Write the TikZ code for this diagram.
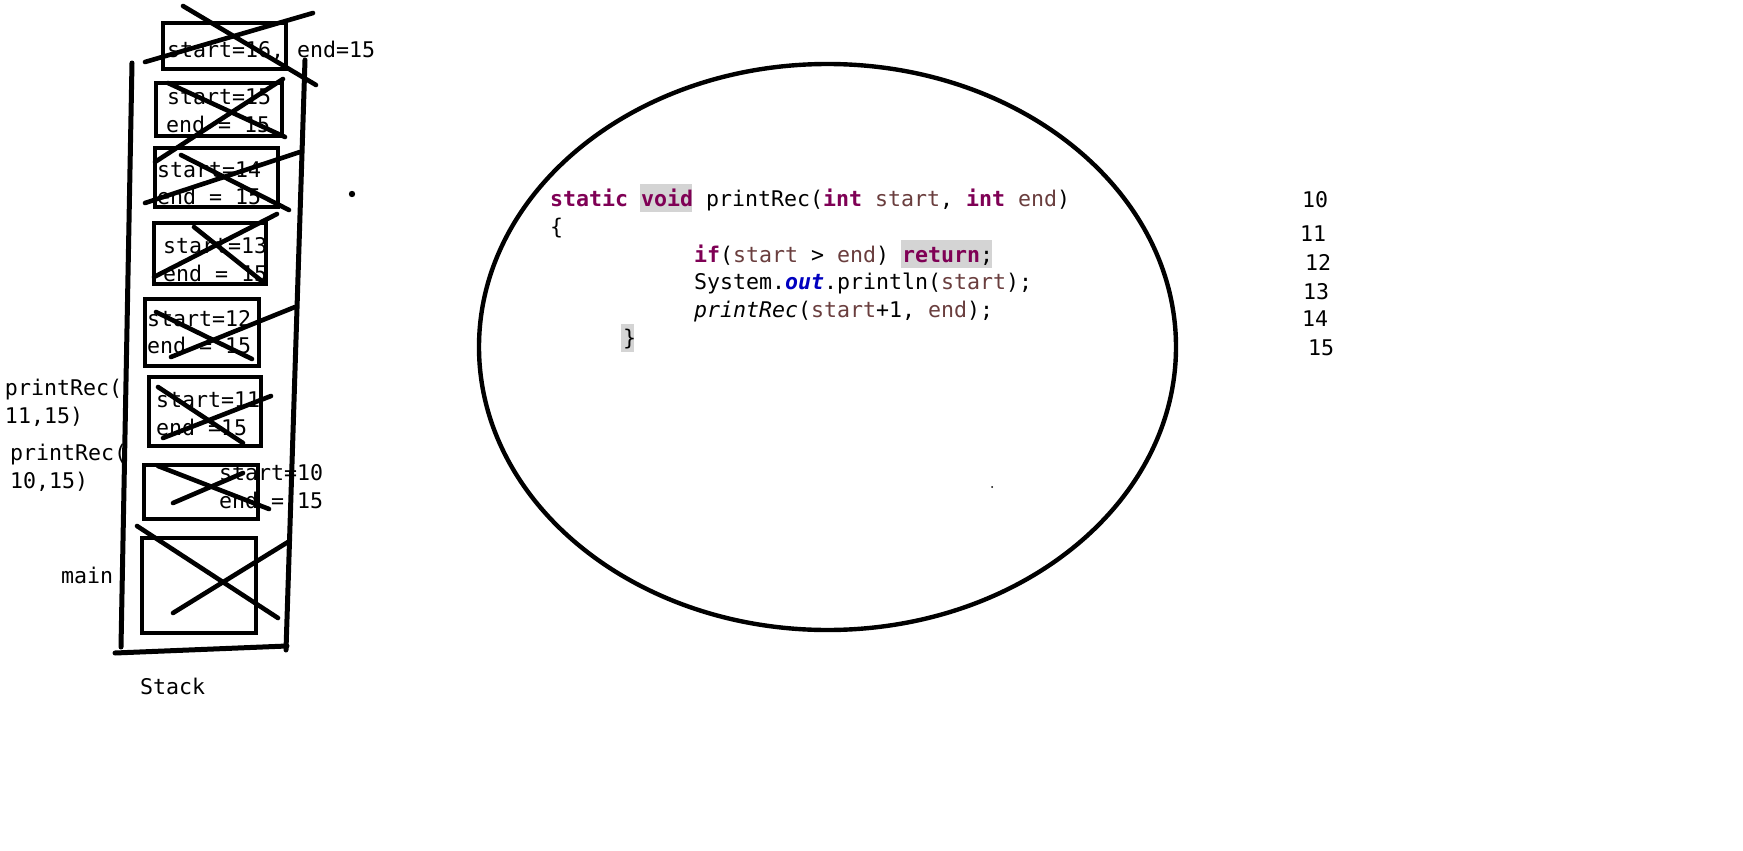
\documentclass[tikz,border=0pt]{standalone}
\usepackage{fontspec}
\newfontfamily\codefont{DejaVu Sans Mono}
\definecolor{kwc}{HTML}{7F0055}
\definecolor{varc}{HTML}{6A3E3E}
\definecolor{outc}{HTML}{0000C0}
\definecolor{hlc}{HTML}{D4D4D4}
\newcommand\kwd[1]{{\color{kwc}\bfseries #1}}
\newcommand\vrb[1]{{\color{varc}#1}}
\tikzset{
  txt/.style={anchor=base west, inner sep=0pt, outer sep=0pt, font=\codefont\fontsize{21.6}{26}\selectfont},
  frame/.style={line width=4.6pt},
  wall/.style={line width=5pt, line cap=round},
  xline/.style={line width=4.6pt, line cap=round},
}
\begin{document}
\begin{tikzpicture}[x=1pt,y=-1pt]
\useasboundingbox (0,0) rectangle (1743,851);
\fill[white] (0,0) rectangle (1743,851);

% stack walls
\coordinate (lwt) at (132,63); \coordinate (lwb) at (121,647);
\coordinate (rwt) at (305,60); \coordinate (rwb) at (286,650);
\coordinate (bl) at (115,653); \coordinate (br) at (287,646);
\draw[wall] (lwt) -- (lwb);
\draw[wall] (rwt) -- (rwb);
\draw[wall] (bl) -- (br);

% frames
\draw[frame] (163,23) rectangle (286,69);
\draw[frame] (156,83) rectangle (282,136);
\draw[frame] (155,148) rectangle (278,207);
\draw[frame] (154,223) rectangle (266,284);
\draw[frame] (145,299) rectangle (259,366);
\draw[frame] (149,377) rectangle (261,446);
\draw[frame] (144,465) rectangle (258,519);
\draw[frame] (142,538) rectangle (256,633);

% frame texts
\node[txt] (f1) at (167,58) {start=16, end=15};
\node[txt] (f2a) at (167,104) {start=15};
\node[txt] (f2b) at (166,132) {end = 15};
\node[txt] (f3a) at (157,177) {start=14};
\node[txt] (f3b) at (157,204) {end = 15};
\node[txt] (f4a) at (163,253) {start=13};
\node[txt] (f4b) at (163,281) {end = 15};
\node[txt] (f5a) at (147,326) {start=12};
\node[txt] (f5b) at (147,353) {end = 15};
\node[txt] (f6a) at (156,407) {start=11};
\node[txt] (f6b) at (156,435) {end =15};
\node[txt] (f7a) at (219,480) {start=10};
\node[txt] (f7b) at (219,508) {end = 15};

% crosses
\draw[xline] (183,6) -- (316,85);
\draw[xline] (145,62) -- (313,13);
\draw[xline] (168,83) -- (285,137);
\draw[xline] (283,79) -- (155,162);
\draw[xline] (181,155) -- (289,210);
\draw[xline] (145,203) -- (300,152);
\draw[xline] (194,227) -- (263,282);
\draw[xline] (154,277) -- (277,214);
\draw[xline] (156,312) -- (252,359);
\draw[xline] (171,357) -- (295,307);
\draw[xline] (158,387) -- (243,443);
\draw[xline] (163,438) -- (271,396);
\draw[xline] (158,466) -- (269,509);
\draw[xline] (173,503) -- (243,473);
\draw[xline] (137,526) -- (278,618);
\draw[xline] (173,613) -- (288,542);

% side labels
\node[txt] (l1a) at (5,395) {printRec(};
\node[txt] (l1b) at (5,423) {11,15)};
\node[txt] (l2a) at (10,460) {printRec(};
\node[txt] (l2b) at (10,488) {10,15)};
\node[txt] (lm) at (61,583) {main};
\node[txt] (ls) at (140,694) {Stack};

% dots
\fill (352,194) circle (3.2);
\fill (992,487) circle (1);

% ellipse
\draw[line width=4.4pt] (827.5,347) ellipse [x radius=348.5, y radius=283];

% highlights
\fill[hlc] (640,184) rectangle (692,212);
\fill[hlc] (901,240) rectangle (992,268);
\fill[hlc] (621,324) rectangle (634,352);

% code
\node[txt] (c1) at (550,206) {\kwd{static} \kwd{void} printRec(\kwd{int} \vrb{start}, \kwd{int} \vrb{end})};
\node[txt] (c2) at (550,234) {\{};
\node[txt] (c3) at (694,262) {\kwd{if}(\vrb{start} > \vrb{end}) \kwd{return};};
\node[txt] (c4) at (694,289) {System.{\color{outc}\bfseries\itshape out}.println(\vrb{start});};
\node[txt] (c5) at (694,317) {{\itshape printRec}(\vrb{start}+1, \vrb{end});};
\node[txt] (c6) at (623,345) {\}};

% output numbers
\node[txt] (n10) at (1302,207) {10};
\node[txt] (n11) at (1300,241) {11};
\node[txt] (n12) at (1305,270) {12};
\node[txt] (n13) at (1303,299) {13};
\node[txt] (n14) at (1302,326) {14};
\node[txt] (n15) at (1308,355) {15};
\end{tikzpicture}
\end{document}
